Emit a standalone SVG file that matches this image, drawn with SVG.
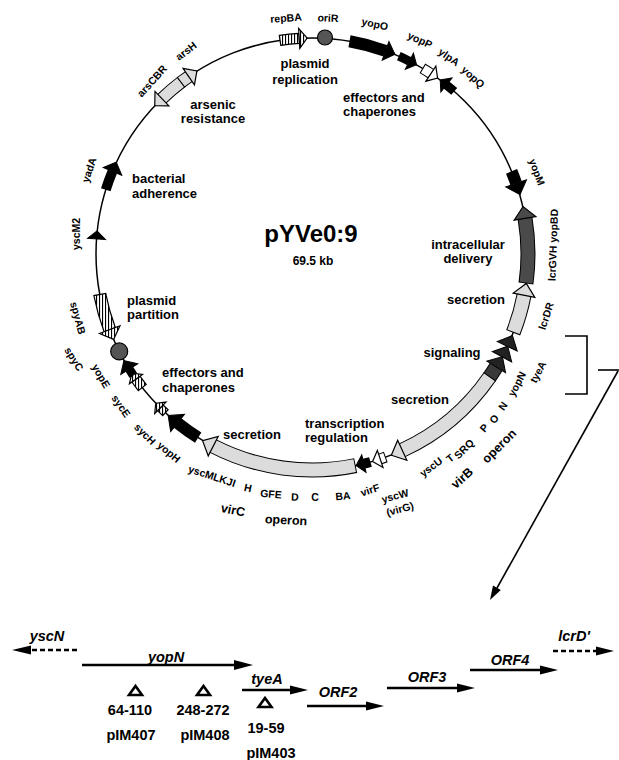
<svg xmlns="http://www.w3.org/2000/svg" width="619" height="760" viewBox="0 0 619 760">
<style>
text{font-family:"Liberation Sans",Arial,Helvetica,sans-serif;font-weight:bold;fill:#000}
.g{font-size:10.5px;text-anchor:middle}
.op{font-size:12.5px;text-anchor:middle}
.r{font-size:13px;text-anchor:middle}
.rl{font-size:13px}
.t{font-size:24px;text-anchor:middle}
.kb{font-size:12px;text-anchor:middle}
.hk{fill:#000;stroke:#000;stroke-width:1}
.hl{fill:#dcdcdc;stroke:#000;stroke-width:1.2}
.hw{fill:#fff;stroke:#000;stroke-width:1.2}
.hd{fill:#4a4a4a;stroke:#000;stroke-width:1.2}
.hx{fill:#222;stroke:#000;stroke-width:1}
.hs{fill:url(#vs);stroke:#000;stroke-width:1.2}
.dot{fill:#555;stroke:#000;stroke-width:1.2}
.ln{stroke:#000;stroke-width:2.5;fill:none}
.dash{stroke-dasharray:5 3}
.it{font-size:14.5px;font-style:italic;text-anchor:middle}
.nm{font-size:14.5px;text-anchor:middle}
.con{stroke:#000;stroke-width:1.6;fill:none}
.tri{fill:none;stroke:#000;stroke-width:2.6;stroke-linejoin:miter}
</style>
<defs>
<circle id="ring" cx="312" cy="254" r="216" fill="none"/>
<polygon id="hS" points="-9,0 9,0 0,8"/>
<polygon id="hM" points="-10,0 10,0 0,10"/>
<polygon id="hB" points="-11,0 11,0 0,12"/>
<pattern id="vs" width="3" height="3" patternUnits="userSpaceOnUse"><rect width="3" height="3" fill="#fff"/><rect width="1.1" height="3" fill="#000"/></pattern>
</defs>

<g id="backbone"><use href="#ring" stroke="#000" stroke-width="1.5"/></g>

<g id="g-repBA">
<path class="hs" d="M279.3,35.4 A221,221 0 0 1 298.9,33.4 L299.5,43.4 A211,211 0 0 0 280.8,45.3 Z"/>
<polygon class="hs" points="298.6,28.4 307.1,38.1 299.8,48.4"/>
<text class="g" transform="translate(286 18) rotate(-4)" y="3.7">repBA</text>
</g>
<g id="g-oriR">
<circle class="dot" cx="325" cy="37.5" r="7.5"/>
<text class="g" transform="translate(328 18) rotate(2)" y="3.7">oriR</text>
</g>
<g id="g-yopO">
<use href="#ring" stroke="#000" stroke-width="12" stroke-dasharray="37.3 2000" transform="rotate(-80 312 254)"/>
<use href="#hM" class="hk" transform="rotate(-70.1 312 254) translate(528 254)"/>
<text class="g" transform="translate(375 24) rotate(12)" y="3.7">yopO</text>
</g>
<g id="g-yopP">
<use href="#ring" stroke="#000" stroke-width="9" stroke-dasharray="11.7 2000" transform="rotate(-66.3 312 254)"/>
<use href="#hS" class="hk" transform="rotate(-63.2 312 254) translate(528 254)"/>
<text class="g" transform="translate(420 40) rotate(25)" y="3.7">yopP</text>
</g>
<g id="g-ylpA">
<use href="#ring" stroke="#000" stroke-width="11" stroke-dasharray="10 2000" transform="rotate(-59.27 312 254)"/>
<use href="#ring" stroke="#fff" stroke-width="9" stroke-dasharray="9 2000" transform="rotate(-59 312 254)"/>
<use href="#hS" class="hw" transform="rotate(-56.6 312 254) translate(528 254)"/>
<text class="g" transform="translate(449 57) rotate(35)" y="3.7">ylpA</text>
</g>
<g id="g-yopQ">
<use href="#ring" stroke="#000" stroke-width="9" stroke-dasharray="10.2 2000" transform="rotate(-51.5 312 254)"/>
<use href="#hS" class="hk" transform="rotate(-51.5 312 254) translate(528 254) scale(1 -1)"/>
<text class="g" transform="translate(473 77) rotate(42)" y="3.7">yopQ</text>
</g>
<g id="g-yopM">
<use href="#ring" stroke="#000" stroke-width="12" stroke-dasharray="12.8 2000" transform="rotate(-22.5 312 254)"/>
<use href="#hB" class="hk" transform="rotate(-19.1 312 254) translate(528 254)"/>
<text class="g" transform="translate(537 172) rotate(70)" y="3.7">yopM</text>
</g>
<g id="g-lcrGVH">
<use href="#ring" stroke="#000" stroke-width="15" stroke-dasharray="65.5 2000" transform="rotate(-9.5 312 254)"/>
<use href="#ring" stroke="#4a4a4a" stroke-width="13" stroke-dasharray="64.5 2000" transform="rotate(-9.5 312 254)"/>
<use href="#hB" class="hd" transform="rotate(-9.5 312 254) translate(528 254) scale(1 -1)"/>
<text class="g" transform="translate(553 245) rotate(-88)" y="3.7">lcrGVH yopBD</text>
</g>
<g id="g-lcrDR">
<use href="#ring" stroke="#000" stroke-width="15" stroke-dasharray="39.1 2000" transform="rotate(11 312 254)"/>
<use href="#ring" stroke="#dcdcdc" stroke-width="13" stroke-dasharray="38.1 2000" transform="rotate(11 312 254)"/>
<use href="#hB" class="hl" transform="rotate(11 312 254) translate(528 254) scale(1 -1)"/>
<text class="g" transform="translate(546 316) rotate(-72)" y="3.7">lcrDR</text>
</g>
<g id="g-yopN-tyeA">
<use href="#ring" stroke="#000" stroke-width="15" stroke-dasharray="12.7 2000" transform="rotate(31.5 312 254)"/>
<use href="#ring" stroke="#3a3a3a" stroke-width="13" stroke-dasharray="11.7 2000" transform="rotate(31.5 312 254)"/>
<use href="#hB" class="hx" transform="rotate(31.5 312 254) translate(528 254) scale(1 -1)"/>
<use href="#hB" class="hx" transform="rotate(28.4 312 254) translate(528 254) scale(1 -1)"/>
<use href="#hB" class="hx" transform="rotate(25.3 312 254) translate(528 254) scale(1 -1)"/>
<text class="g" transform="translate(517 384) rotate(-62)" y="3.7">yopN</text>
<text class="g" transform="translate(538 372) rotate(-62)" y="3.7">tyeA</text>
</g>
<g id="g-virB">
<use href="#ring" stroke="#000" stroke-width="15" stroke-dasharray="116 2000" transform="rotate(34.53 312 254)"/>
<use href="#ring" stroke="#dcdcdc" stroke-width="13" stroke-dasharray="115 2000" transform="rotate(34.8 312 254)"/>
<use href="#hB" class="hl" transform="rotate(65.3 312 254) translate(528 254)"/>
<text class="g" transform="translate(431 467) rotate(-37)" y="3.7">yscU</text>
<text class="g" transform="translate(450 458) rotate(-40)" y="3.7">T</text>
<text class="g" transform="translate(464 449) rotate(-45)" y="3.7">SRQ</text>
<text class="g" transform="translate(484 428) rotate(-48)" y="3.7">P</text>
<text class="g" transform="translate(494 419) rotate(-50)" y="3.7">O</text>
<text class="g" transform="translate(503 406) rotate(-55)" y="3.7">N</text>
<text class="op" transform="translate(462 478) rotate(-42)" y="4.3">virB</text>
<text class="op" transform="translate(499 446) rotate(-45)" y="4.3">operon</text>
</g>
<g id="g-yscW">
<use href="#ring" stroke="#000" stroke-width="11" stroke-dasharray="5.9 2000" transform="rotate(70.03 312 254)"/>
<use href="#ring" stroke="#fff" stroke-width="9" stroke-dasharray="4.9 2000" transform="rotate(70.3 312 254)"/>
<use href="#hS" class="hw" transform="rotate(71.6 312 254) translate(528 254)"/>
<text class="g" transform="translate(395 496) rotate(-15)" y="3.7">yscW</text>
<text class="g" transform="translate(400 509) rotate(-15)" y="3.7">(virG)</text>
</g>
<g id="g-virF">
<use href="#ring" stroke="#000" stroke-width="10" stroke-dasharray="6.8 2000" transform="rotate(74.3 312 254)"/>
<use href="#hS" class="hk" transform="rotate(76.1 312 254) translate(528 254)"/>
<text class="g" transform="translate(370 490) rotate(-18)" y="3.7">virF</text>
</g>
<g id="g-virC">
<use href="#ring" stroke="#000" stroke-width="15" stroke-dasharray="146.5 2000" transform="rotate(78.33 312 254)"/>
<use href="#ring" stroke="#dcdcdc" stroke-width="13" stroke-dasharray="145.5 2000" transform="rotate(78.6 312 254)"/>
<use href="#hB" class="hl" transform="rotate(117.2 312 254) translate(528 254)"/>
<text class="g" transform="translate(343 496) rotate(-5)" y="3.7">BA</text>
<text class="g" transform="translate(315 497)" y="3.7">C</text>
<text class="g" transform="translate(295 497) rotate(2)" y="3.7">D</text>
<text class="g" transform="translate(271 494) rotate(5)" y="3.7">GFE</text>
<text class="g" transform="translate(248 488) rotate(12)" y="3.7">H</text>
<text class="g" transform="translate(212 476) rotate(18)" y="3.7">yscMLKJI</text>
<text class="op" transform="translate(233 510) rotate(12)" y="4.3">virC</text>
<text class="op" transform="translate(286 520) rotate(3)" y="4.3">operon</text>
</g>
<g id="g-yopH">
<use href="#ring" stroke="#000" stroke-width="12" stroke-dasharray="25.3 2000" transform="rotate(121.8 312 254)"/>
<use href="#hB" class="hk" transform="rotate(128.5 312 254) translate(528 254)"/>
<text class="g" transform="translate(169 452) rotate(40)" y="3.7">yopH</text>
</g>
<g id="g-sycH">
<path class="hs" d="M162.7,415.6 A220,220 0 0 1 157.5,410.6 L163.1,405.0 A212,212 0 0 0 168.1,409.7 Z"/>
<polygon class="hs" points="154.7,413.5 155.8,403.2 166.0,402.1"/>
<text class="g" transform="translate(145 434) rotate(45)" y="3.7">sycH</text>
</g>
<g id="g-sycE">
<path class="hs" d="M138.3,390.6 A221,221 0 0 1 131.9,382.0 L140.0,376.2 A211,211 0 0 0 146.2,384.4 Z"/>
<polygon class="hs" points="129.4,383.8 131.9,373.2 142.5,374.5"/>
<text class="g" transform="translate(121 406) rotate(55)" y="3.7">sycE</text>
</g>
<g id="g-yopE">
<use href="#ring" stroke="#000" stroke-width="9" stroke-dasharray="7.5 2000" transform="rotate(145.8 312 254)"/>
<use href="#hM" class="hk" transform="rotate(147.8 312 254) translate(528 254)"/>
<text class="g" transform="translate(101 376) rotate(60)" y="3.7">yopE</text>
</g>
<g id="g-spyC">
<circle class="dot" cx="119.2" cy="351.4" r="8.5"/>
<text class="g" transform="translate(74 359) rotate(58)" y="3.7">spyC</text>
</g>
<g id="g-spyAB">
<path class="hs" d="M93.9,295.6 A222,222 0 0 0 104.1,331.7 L115.3,327.5 A210,210 0 0 1 105.7,293.4 Z"/>
<polygon class="hs" points="99.4,333.5 113.6,339.4 120.0,325.8"/>
<text class="g" transform="translate(78 318) rotate(75)" y="3.7">spyAB</text>
</g>
<g id="g-yscM2">
<use href="#hS" class="hk" transform="rotate(184 312 254) translate(528 254)"/>
<text class="g" transform="translate(76 234) rotate(-90)" y="3.7">yscM2</text>
</g>
<g id="g-yadA">
<use href="#ring" stroke="#000" stroke-width="10" stroke-dasharray="19.6 2000" transform="rotate(197.3 312 254)"/>
<use href="#hM" class="hk" transform="rotate(202.5 312 254) translate(528 254)"/>
<text class="g" transform="translate(89 170) rotate(-72)" y="3.7">yadA</text>
</g>
<g id="g-arsCBR">
<use href="#ring" stroke="#000" stroke-width="13" stroke-dasharray="25.9 2000" transform="rotate(226 312 254)"/>
<use href="#ring" stroke="#dcdcdc" stroke-width="11" stroke-dasharray="24.9 2000" transform="rotate(226 312 254)"/>
<use href="#hM" class="hl" transform="rotate(226 312 254) translate(528 254) scale(1 -1)"/>
<text class="g" transform="translate(152 81) rotate(-48)" y="3.7">arsCBR</text>
</g>
<g id="g-arsH">
<use href="#ring" stroke="#000" stroke-width="13" stroke-dasharray="10 2000" transform="rotate(232.53 312 254)"/>
<use href="#ring" stroke="#dcdcdc" stroke-width="11" stroke-dasharray="9 2000" transform="rotate(232.8 312 254)"/>
<use href="#hM" class="hl" transform="rotate(235.2 312 254) translate(528 254)"/>
<text class="g" transform="translate(186 51) rotate(-38)" y="3.7">arsH</text>
</g>

<g id="title">
<text class="t" x="311" y="242">pYVe0:9</text>
<text class="kb" x="313" y="265">69.5 kb</text>
</g>

<g id="region-labels">
<text class="r" x="305" y="68">plasmid</text>
<text class="r" x="305" y="84">replication</text>
<text class="r" x="213" y="109">arsenic</text>
<text class="r" x="213" y="123">resistance</text>
<text class="rl" x="343" y="102">effectors and</text>
<text class="rl" x="343" y="116">chaperones</text>
<text class="rl" x="132" y="183">bacterial</text>
<text class="rl" x="132" y="198">adherence</text>
<text class="r" x="468" y="249">intracellular</text>
<text class="r" x="468" y="263">delivery</text>
<text class="r" x="476" y="304">secretion</text>
<text class="r" x="452" y="357">signaling</text>
<text class="r" x="420" y="404">secretion</text>
<text class="rl" x="305" y="428">transcription</text>
<text class="rl" x="305" y="442">regulation</text>
<text class="r" x="252" y="439">secretion</text>
<text class="rl" x="162" y="377">effectors and</text>
<text class="rl" x="162" y="392">chaperones</text>
<text class="rl" x="127" y="305">plasmid</text>
<text class="rl" x="127" y="319">partition</text>
</g>

<g id="connectors">
<polyline class="con" points="565,336 587,336 587,394 565,394"/>
<line class="con" x1="598" y1="370" x2="619" y2="370"/>
<line class="con" x1="618" y1="371" x2="497" y2="588"/>
<polygon points="490,600 500.8,590 493,585.6" fill="#000"/>
</g>

<g id="m-yscN">
<text class="it" x="47" y="641">yscN</text>
<line class="ln dash" x1="77" y1="650" x2="30" y2="650"/>
<polygon points="12,650 31,645.5 31,654.5"/>
</g>
<g id="m-yopN">
<text class="it" x="166" y="662">yopN</text>
<line class="ln" x1="82" y1="665" x2="237" y2="665"/>
<polygon points="253,665 234,660 234,670"/>
<polygon class="tri" points="135.5,686 142,695 129,695"/>
<polygon class="tri" points="203.5,686 210,695 197,695"/>
<text class="nm" x="130" y="715">64-110</text>
<text class="nm" x="203" y="715">248-272</text>
<text class="nm" x="131" y="740">pIM407</text>
<text class="nm" x="205" y="740">pIM408</text>
</g>
<g id="m-tyeA">
<text class="it" x="267" y="684">tyeA</text>
<line class="ln" x1="242" y1="690" x2="292" y2="690"/>
<polygon points="308,690 290,685.5 290,694.5"/>
<polygon class="tri" points="265,698 271.5,707 258.5,707"/>
<text class="nm" x="266" y="733">19-59</text>
<text class="nm" x="271" y="758">pIM403</text>
</g>
<g id="m-ORF2">
<text class="it" x="338" y="697">ORF2</text>
<line class="ln" x1="307" y1="706" x2="368" y2="706"/>
<polygon points="384,706 366,701.5 366,710.5"/>
</g>
<g id="m-ORF3">
<text class="it" x="427" y="682">ORF3</text>
<line class="ln" x1="387" y1="688" x2="459" y2="688"/>
<polygon points="475,688 457,683.5 457,692.5"/>
</g>
<g id="m-ORF4">
<text class="it" x="510" y="665">ORF4</text>
<line class="ln" x1="470" y1="670" x2="542" y2="670"/>
<polygon points="558,670 540,665.5 540,674.5"/>
</g>
<g id="m-lcrD">
<text class="it" x="574" y="641">lcrD'</text>
<line class="ln dash" x1="553" y1="651" x2="598" y2="651"/>
<polygon points="614,651 596,646.5 596,655.5"/>
</g>
</svg>
